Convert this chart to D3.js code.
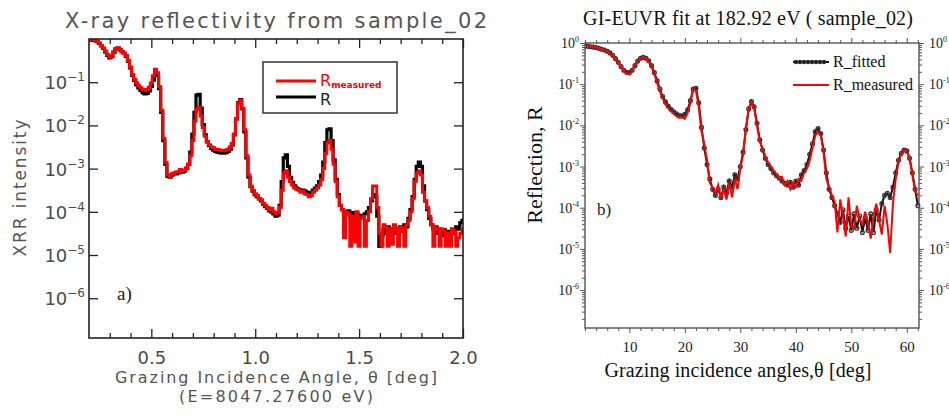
<!DOCTYPE html>
<html>
<head>
<meta charset="utf-8">
<script src="https://cdn.jsdelivr.net/npm/d3@7"></script>
<style>
  body { margin: 0; background: #fff; }
  svg { display: block; }
</style>
</head>
<body>
<script>
// ---- panel a) : XRR, values stored as log10(intensity) read off the decades ----
var xrrAngle = [
  0.20, 0.21, 0.22, 0.23, 0.24, 0.25, 0.26, 0.27, 0.28, 0.29,
  0.30, 0.31, 0.32, 0.33, 0.34, 0.35, 0.36, 0.37, 0.38, 0.39,
  0.40, 0.41, 0.42, 0.43, 0.44, 0.45, 0.46, 0.47, 0.48, 0.49,
  0.50, 0.51, 0.52, 0.53, 0.54, 0.55, 0.56, 0.57, 0.58, 0.59,
  0.60, 0.61, 0.62, 0.63, 0.64, 0.65, 0.66, 0.67, 0.68, 0.69,
  0.70, 0.71, 0.72, 0.73, 0.74, 0.75, 0.76, 0.77, 0.78, 0.79,
  0.80, 0.81, 0.82, 0.83, 0.84, 0.85, 0.86, 0.87, 0.88, 0.89,
  0.90, 0.91, 0.92, 0.93, 0.94, 0.95, 0.96, 0.97, 0.98, 0.99,
  1.00, 1.01, 1.02, 1.03, 1.04, 1.05, 1.06, 1.07, 1.08, 1.09,
  1.10, 1.11, 1.12, 1.13, 1.14, 1.15, 1.16, 1.17, 1.18, 1.19,
  1.20, 1.21, 1.22, 1.23, 1.24, 1.25, 1.26, 1.27, 1.28, 1.29,
  1.30, 1.31, 1.32, 1.33, 1.34, 1.35, 1.36, 1.37, 1.38, 1.39,
  1.40, 1.41, 1.42, 1.43, 1.44, 1.45, 1.46, 1.47, 1.48, 1.49,
  1.50, 1.51, 1.52, 1.53, 1.54, 1.55, 1.56, 1.57, 1.58, 1.59,
  1.60, 1.61, 1.62, 1.63, 1.64, 1.65, 1.66, 1.67, 1.68, 1.69,
  1.70, 1.71, 1.72, 1.73, 1.74, 1.75, 1.76, 1.77, 1.78, 1.79,
  1.80, 1.81, 1.82, 1.83, 1.84, 1.85, 1.86, 1.87, 1.88, 1.89,
  1.90, 1.91, 1.92, 1.93, 1.94, 1.95, 1.96, 1.97, 1.98, 1.99,
  2.00
];
var xrrMeasuredLog = [
  -0.02, -0.02, -0.02, -0.03, -0.05, -0.09, -0.15, -0.21, -0.28, -0.36,
  -0.42, -0.40, -0.30, -0.22, -0.20, -0.24, -0.30, -0.33, -0.38, -0.50,
  -0.65, -0.82, -0.93, -1.02, -1.08, -1.13, -1.17, -1.18, -1.17, -1.12,
  -1.02, -0.85, -0.70, -0.78, -1.10, -1.65, -2.30, -2.85, -3.15, -3.18,
  -3.12, -3.10, -3.08, -3.07, -3.02, -3.05, -3.04, -2.98, -2.90, -2.70,
  -2.35, -1.90, -1.62, -1.58, -1.78, -2.05, -2.25, -2.38, -2.45, -2.50,
  -2.52, -2.55, -2.56, -2.57, -2.58, -2.58, -2.57, -2.55, -2.50, -2.42,
  -2.20, -1.85, -1.50, -1.42, -1.60, -2.10, -2.70, -3.15, -3.40, -3.50,
  -3.58, -3.62, -3.70, -3.72, -3.80, -3.85, -3.90, -3.95, -3.92, -4.00,
  -4.05, -4.02, -3.90, -3.50, -3.10, -3.05, -3.20, -3.30, -3.38, -3.45,
  -3.48, -3.50, -3.55, -3.52, -3.58, -3.60, -3.65, -3.62, -3.55, -3.50,
  -3.45, -3.38, -3.25, -3.00, -2.65, -2.40, -2.35, -2.55, -2.90, -3.30,
  -3.65, -3.85, -3.95, -4.60, -4.00, -4.05, -4.80, -4.10, -4.70, -4.00,
  -4.80, -4.15, -4.10, -4.80, -4.20, -4.00, -3.70, -3.40, -3.40, -3.90,
  -4.50, -4.80, -4.30, -4.35, -4.80, -4.40, -4.75, -4.30, -4.40, -4.80,
  -4.35, -4.40, -4.80, -4.30, -4.20, -4.00, -3.70, -3.30, -3.10, -3.05,
  -3.15, -3.55, -3.75, -3.90, -4.10, -4.30, -4.80, -4.35, -4.40, -4.80,
  -4.40, -4.45, -4.80, -4.50, -4.80, -4.40, -4.45, -4.80, -4.60, -4.50,
  -4.40
];
var xrrCalcLog = [
  -0.02, -0.02, -0.03, -0.04, -0.06, -0.10, -0.16, -0.22, -0.30, -0.38,
  -0.44, -0.41, -0.31, -0.23, -0.21, -0.25, -0.29, -0.33, -0.40, -0.52,
  -0.67, -0.84, -0.96, -1.06, -1.13, -1.19, -1.24, -1.27, -1.26, -1.20,
  -1.10, -0.95, -0.82, -0.85, -1.15, -1.70, -2.35, -2.90, -3.18, -3.20,
  -3.15, -3.12, -3.12, -3.10, -3.08, -3.08, -3.06, -3.00, -2.90, -2.62,
  -2.20, -1.70, -1.30, -1.28, -1.60, -1.98, -2.22, -2.38, -2.47, -2.53,
  -2.57, -2.60, -2.62, -2.63, -2.64, -2.64, -2.63, -2.60, -2.55, -2.45,
  -2.22, -1.85, -1.48, -1.40, -1.62, -2.15, -2.75, -3.20, -3.42, -3.52,
  -3.60, -3.65, -3.70, -3.75, -3.82, -3.88, -3.92, -3.98, -4.00, -4.05,
  -4.10, -4.08, -3.85, -3.30, -2.75, -2.68, -2.95, -3.20, -3.32, -3.40,
  -3.45, -3.48, -3.50, -3.50, -3.52, -3.55, -3.56, -3.55, -3.50, -3.45,
  -3.40, -3.30, -3.15, -2.85, -2.40, -2.10, -2.08, -2.35, -2.80, -3.25,
  -3.60, -3.85, -3.95, -4.00, -4.05, -3.98, -4.10, -4.02, -4.12, -4.05,
  -4.15, -4.08, -4.12, -4.05, -4.00, -3.90, -3.75, -3.60, -3.65, -4.10,
  -4.80, -4.55, -4.40, -4.50, -4.35, -4.55, -4.40, -4.50, -4.38, -4.48,
  -4.35, -4.45, -4.30, -4.35, -4.15, -3.95, -3.65, -3.25, -2.95, -2.85,
  -2.95, -3.40, -3.75, -3.95, -4.15, -4.30, -4.40, -4.35, -4.50, -4.40,
  -4.55, -4.42, -4.60, -4.45, -4.55, -4.40, -4.50, -4.35, -4.40, -4.25,
  -4.20
];
var xrrMajorTicks = [0.5, 1.0, 1.5, 2.0];
var xrrMinorTicks = [0.3, 0.4, 0.6, 0.7, 0.8, 0.9, 1.1, 1.2, 1.3, 1.4, 1.6, 1.7, 1.8, 1.9];
var xrrDecades = [1e-1, 1e-2, 1e-3, 1e-4, 1e-5, 1e-6];

// ---- panel b) : GI-EUVR at 182.92 eV ----
var euvAngle = [
  2.0, 2.5, 3.0, 3.5, 4.0, 4.5, 5.0, 5.5, 6.0, 6.5,
  7.0, 7.5, 8.0, 8.5, 9.0, 9.5, 10.0, 10.5, 11.0, 11.5,
  12.0, 12.5, 13.0, 13.5, 14.0, 14.5, 15.0, 15.5, 16.0, 16.5,
  17.0, 17.5, 18.0, 18.5, 19.0, 19.5, 20.0, 20.5, 21.0, 21.5,
  22.0, 22.5, 23.0, 23.5, 24.0, 24.5, 25.0, 25.5, 26.0, 26.5,
  27.0, 27.5, 28.0, 28.5, 29.0, 29.5, 30.0, 30.5, 31.0, 31.5,
  32.0, 32.5, 33.0, 33.5, 34.0, 34.5, 35.0, 35.5, 36.0, 36.5,
  37.0, 37.5, 38.0, 38.5, 39.0, 39.5, 40.0, 40.5, 41.0, 41.5,
  42.0, 42.5, 43.0, 43.5, 44.0, 44.5, 45.0, 45.5, 46.0, 46.5,
  47.0, 47.5, 48.0, 48.5, 49.0, 49.5, 50.0, 50.5, 51.0, 51.5,
  52.0, 52.5, 53.0, 53.5, 54.0, 54.5, 55.0, 55.5, 56.0, 56.5,
  57.0, 57.5, 58.0, 58.5, 59.0, 59.5, 60.0, 60.5, 61.0, 61.5,
  62.0
];
var euvFittedLog = [
  -0.07, -0.08, -0.09, -0.10, -0.11, -0.13, -0.15, -0.17, -0.20, -0.24,
  -0.30, -0.38, -0.47, -0.57, -0.66, -0.71, -0.72, -0.66, -0.55, -0.44,
  -0.37, -0.35, -0.37, -0.43, -0.55, -0.72, -0.92, -1.12, -1.30, -1.43,
  -1.53, -1.61, -1.67, -1.72, -1.76, -1.77, -1.73, -1.62, -1.40, -1.12,
  -1.10, -1.45, -2.05, -2.55, -2.95, -3.30, -3.55, -3.70, -3.55, -3.75,
  -3.50, -3.65, -3.35, -3.50, -3.20, -3.30, -3.00, -2.65, -2.10, -1.60,
  -1.42, -1.55, -1.95, -2.35, -2.60, -2.80, -2.95, -3.05, -3.15, -3.22,
  -3.28, -3.35, -3.40, -3.45, -3.38, -3.50, -3.35, -3.45, -3.20, -3.10,
  -2.95, -2.70, -2.45, -2.15, -2.08, -2.20, -2.60, -3.15, -3.55, -3.75,
  -3.95, -4.15, -4.35, -4.05, -4.50, -4.20, -4.55, -4.15, -4.50, -4.20,
  -4.60, -4.25, -4.55, -4.15, -4.60, -4.05, -4.30, -3.90, -3.70, -3.65,
  -3.75, -3.50, -3.15, -2.85, -2.68, -2.60, -2.62, -2.80, -3.15, -3.55,
  -3.95
];
var euvMeasuredLog = [
  -0.07, -0.08, -0.09, -0.10, -0.11, -0.13, -0.15, -0.18, -0.21, -0.25,
  -0.31, -0.39, -0.48, -0.58, -0.68, -0.74, -0.76, -0.68, -0.56, -0.45,
  -0.38, -0.36, -0.38, -0.45, -0.58, -0.76, -0.97, -1.17, -1.35, -1.48,
  -1.58, -1.66, -1.72, -1.78, -1.82, -1.80, -1.84, -1.70, -1.45, -1.12,
  -1.15, -1.55, -2.15, -2.45, -2.85, -3.40, -3.50, -3.65, -3.45, -3.78,
  -3.55, -3.80, -3.40, -3.75, -3.30, -3.55, -3.05, -2.70, -2.10, -1.60,
  -1.45, -1.60, -2.00, -2.40, -2.55, -2.75, -2.90, -3.00, -3.10, -3.18,
  -3.30, -3.25, -3.45, -3.35, -3.55, -3.40, -3.50, -3.30, -3.35, -3.15,
  -3.05, -2.85, -2.55, -2.25, -2.15, -2.25, -2.65, -3.30, -3.50, -3.70,
  -3.85, -4.60, -3.80, -4.20, -4.70, -3.75, -4.45, -4.50, -3.95, -4.30,
  -4.40, -4.10, -4.35, -4.75, -4.20, -3.90, -4.30, -4.65, -3.95, -4.40,
  -5.10, -3.90, -3.30, -2.90, -2.70, -2.62, -2.62, -2.80, -3.20, -3.60,
  -3.70
];
var euvMajorTicks = [10, 20, 30, 40, 50, 60];
var euvMinorTicks = [2, 4, 6, 8, 12, 14, 16, 18, 22, 24, 26, 28, 32, 34, 36, 38, 42, 44, 46, 48, 52, 54, 56, 58, 62];
var euvDecades = [1, 1e-1, 1e-2, 1e-3, 1e-4, 1e-5, 1e-6];

var sansFont = '"DejaVu Sans", Verdana, sans-serif',
  serifFont = '"Liberation Serif", "Times New Roman", serif';

var svg = d3.select('body').append('svg')
  .attr('width', 949)
  .attr('height', 416);

function toPoints(angles, logs) {
  return angles.map(function (a, i) { return [a, Math.pow(10, logs[i])]; });
}

function expo(d) {
  return Math.round(Math.log10(d));
}

function styleAxis(g, color, width) {
  g.select('.domain').remove();
  g.selectAll('line').attr('stroke', color).attr('stroke-width', width);
}

// =================== panel a ===================
var ax = d3.scaleLinear().domain([0.2, 2.0]).range([89, 463]),
  ay = d3.scaleLog().domain([1.2e-7, 1]).range([338, 39]);

var pa = svg.append('g');

pa.append('clipPath').attr('id', 'clip-a').append('rect')
  .attr('x', 89).attr('y', 39).attr('width', 374).attr('height', 299);

var lineA = d3.line()
  .x(function (d) { return ax(d[0]); })
  .y(function (d) { return ay(d[1]); })
  .curve(d3.curveStep);

var curvesA = pa.append('g').attr('clip-path', 'url(#clip-a)');
curvesA.append('path')
  .datum(toPoints(xrrAngle, xrrCalcLog))
  .attr('d', lineA)
  .attr('fill', 'none').attr('stroke', '#000').attr('stroke-width', 3.2);
curvesA.append('path')
  .datum(toPoints(xrrAngle, xrrMeasuredLog))
  .attr('d', lineA)
  .attr('fill', 'none').attr('stroke', '#f00').attr('stroke-width', 3);

// ticks point inward on all four sides
pa.append('g').attr('transform', 'translate(0,338)')
  .call(d3.axisBottom(ax).tickValues(xrrMinorTicks).tickSize(-5).tickFormat(''))
  .call(styleAxis, '#222', 1.3);
pa.append('g').attr('transform', 'translate(0,338)')
  .call(d3.axisBottom(ax).tickValues(xrrMajorTicks).tickSize(-9).tickPadding(13).tickFormat(d3.format('.1f')))
  .call(styleAxis, '#222', 1.3)
  .selectAll('text')
  .attr('font-family', sansFont).attr('font-size', 18).attr('fill', '#4a4a4a');
pa.append('g').attr('transform', 'translate(0,39)')
  .call(d3.axisTop(ax).tickValues(xrrMinorTicks).tickSize(-5).tickFormat(''))
  .call(styleAxis, '#222', 1.3);
pa.append('g').attr('transform', 'translate(0,39)')
  .call(d3.axisTop(ax).tickValues(xrrMajorTicks).tickSize(-9).tickFormat(''))
  .call(styleAxis, '#222', 1.3);
pa.append('g').attr('transform', 'translate(89,0)')
  .call(d3.axisLeft(ay).tickValues(xrrDecades).tickSize(-9).tickFormat(''))
  .call(styleAxis, '#222', 1.3);
pa.append('g').attr('transform', 'translate(463,0)')
  .call(d3.axisRight(ay).tickValues(xrrDecades).tickSize(-9).tickFormat(''))
  .call(styleAxis, '#222', 1.3);

pa.selectAll('.ylab-a').data(xrrDecades).enter().append('text')
  .attr('class', 'ylab-a')
  .attr('x', 85)
  .attr('y', function (d) { return ay(d) + 7; })
  .attr('text-anchor', 'end')
  .attr('font-family', sansFont).attr('font-size', 18).attr('fill', '#4a4a4a')
  .each(function (d) {
    var t = d3.select(this);
    t.append('tspan').text('10');
    t.append('tspan').attr('dy', -8).attr('font-size', 12).text('\u2212' + (-expo(d)));
  });

pa.append('rect')
  .attr('x', 89).attr('y', 39).attr('width', 374).attr('height', 299)
  .attr('fill', 'none').attr('stroke', '#222').attr('stroke-width', 1.6);

pa.append('text')
  .attr('x', 65).attr('y', 28)
  .attr('font-family', sansFont).attr('font-size', 21).attr('fill', '#555')
  .attr('textLength', 422).attr('lengthAdjust', 'spacing')
  .text('X-ray reflectivity from sample_02');

pa.append('text')
  .attr('transform', 'translate(26,188) rotate(-90)')
  .attr('text-anchor', 'middle')
  .attr('font-family', sansFont).attr('font-size', 17).attr('fill', '#555')
  .attr('textLength', 137).attr('lengthAdjust', 'spacing')
  .text('XRR intensity');

pa.append('text')
  .attr('x', 276).attr('y', 383)
  .attr('text-anchor', 'middle')
  .attr('font-family', sansFont).attr('font-size', 16).attr('fill', '#555')
  .attr('textLength', 322).attr('lengthAdjust', 'spacing')
  .text('Grazing Incidence Angle, \u03b8 [deg]');
pa.append('text')
  .attr('x', 276).attr('y', 402)
  .attr('text-anchor', 'middle')
  .attr('font-family', sansFont).attr('font-size', 16).attr('fill', '#555')
  .attr('textLength', 194).attr('lengthAdjust', 'spacing')
  .text('(E=8047.27600 eV)');

pa.append('text')
  .attr('x', 117).attr('y', 300)
  .attr('font-family', serifFont).attr('font-size', 19).attr('fill', '#222')
  .text('a)');

// legend a
var legA = pa.append('g');
legA.append('rect')
  .attr('x', 263).attr('y', 62).attr('width', 134).attr('height', 51)
  .attr('fill', '#fff').attr('stroke', '#333').attr('stroke-width', 1.5);
legA.append('line').attr('x1', 276).attr('x2', 316).attr('y1', 81).attr('y2', 81)
  .attr('stroke', '#f00').attr('stroke-width', 3);
legA.append('line').attr('x1', 276).attr('x2', 316).attr('y1', 97).attr('y2', 97)
  .attr('stroke', '#000').attr('stroke-width', 3);
var legAr = legA.append('text')
  .attr('x', 320).attr('y', 86)
  .attr('font-family', sansFont).attr('font-size', 16).attr('fill', '#f00');
legAr.append('tspan').text('R');
legAr.append('tspan').attr('dy', 2).attr('font-size', 9).attr('font-weight', 'bold').text('measured');
legA.append('text')
  .attr('x', 320).attr('y', 105)
  .attr('font-family', sansFont).attr('font-size', 16).attr('fill', '#222')
  .text('R');

// =================== panel b ===================
var bx = d3.scaleLinear().domain([2, 62.2]).range([585, 919]),
  by = d3.scaleLog().domain([1.2e-7, 1]).range([328, 43]);

var pb = svg.append('g');

pb.append('clipPath').attr('id', 'clip-b').append('rect')
  .attr('x', 585).attr('y', 43).attr('width', 336).attr('height', 285);

var lineB = d3.line()
  .x(function (d) { return bx(d[0]); })
  .y(function (d) { return by(d[1]); });

var fitted = toPoints(euvAngle, euvFittedLog);
var curvesB = pb.append('g').attr('clip-path', 'url(#clip-b)');
curvesB.append('path')
  .datum(fitted)
  .attr('d', lineB)
  .attr('fill', 'none').attr('stroke', '#111').attr('stroke-width', 2);
curvesB.selectAll('circle').data(fitted).enter().append('circle')
  .attr('cx', function (d) { return bx(d[0]); })
  .attr('cy', function (d) { return by(d[1]); })
  .attr('r', 1.9)
  .attr('fill', 'none').attr('stroke', '#333').attr('stroke-width', 1.3);
curvesB.append('path')
  .datum(toPoints(euvAngle, euvMeasuredLog))
  .attr('d', lineB)
  .attr('fill', 'none').attr('stroke', '#f00').attr('stroke-width', 2);

var euvMinorY = [];
euvDecades.concat([1e-7]).forEach(function (dec) {
  [2, 3, 4, 5, 6, 7, 8, 9].forEach(function (m) {
    var v = m * dec;
    if (v < 1 && v > 1.2e-7) { euvMinorY.push(v); }
  });
});

// ticks point outward
pb.append('g').attr('transform', 'translate(0,328)')
  .call(d3.axisBottom(bx).tickValues(euvMinorTicks).tickSize(3).tickFormat(''))
  .call(styleAxis, '#555', 1);
pb.append('g').attr('transform', 'translate(0,328)')
  .call(d3.axisBottom(bx).tickValues(euvMajorTicks).tickSize(5).tickPadding(8).tickFormat(d3.format('d')))
  .call(styleAxis, '#555', 1)
  .selectAll('text')
  .attr('font-family', serifFont).attr('font-size', 15).attr('fill', '#222');
pb.append('g').attr('transform', 'translate(0,43)')
  .call(d3.axisTop(bx).tickValues(euvMinorTicks).tickSize(3).tickFormat(''))
  .call(styleAxis, '#555', 1);
pb.append('g').attr('transform', 'translate(0,43)')
  .call(d3.axisTop(bx).tickValues(euvMajorTicks).tickSize(5).tickFormat(''))
  .call(styleAxis, '#555', 1);
pb.append('g').attr('transform', 'translate(585,0)')
  .call(d3.axisLeft(by).tickValues(euvMinorY).tickSize(3).tickFormat(''))
  .call(styleAxis, '#555', 1);
pb.append('g').attr('transform', 'translate(585,0)')
  .call(d3.axisLeft(by).tickValues(euvDecades).tickSize(5).tickFormat(''))
  .call(styleAxis, '#555', 1);
pb.append('g').attr('transform', 'translate(919,0)')
  .call(d3.axisRight(by).tickValues(euvMinorY).tickSize(3).tickFormat(''))
  .call(styleAxis, '#555', 1);
pb.append('g').attr('transform', 'translate(919,0)')
  .call(d3.axisRight(by).tickValues(euvDecades).tickSize(5).tickFormat(''))
  .call(styleAxis, '#555', 1);

function decadeLabel(sel) {
  sel.each(function (d) {
    var t = d3.select(this);
    t.append('tspan').text('10');
    t.append('tspan').attr('dy', -6).attr('font-size', 8).text(expo(d) === 0 ? '0' : '-' + (-expo(d)));
  });
}
pb.selectAll('.ylab-b').data(euvDecades).enter().append('text')
  .attr('class', 'ylab-b')
  .attr('x', 579)
  .attr('y', function (d) { return by(d) + 5; })
  .attr('text-anchor', 'end')
  .attr('font-family', serifFont).attr('font-size', 14).attr('fill', '#222')
  .call(decadeLabel);
pb.selectAll('.ylab-b2').data(euvDecades).enter().append('text')
  .attr('class', 'ylab-b2')
  .attr('x', 929)
  .attr('y', function (d) { return by(d) + 5; })
  .attr('font-family', serifFont).attr('font-size', 14).attr('fill', '#222')
  .call(decadeLabel);

pb.append('rect')
  .attr('x', 585).attr('y', 43).attr('width', 334).attr('height', 285)
  .attr('fill', 'none').attr('stroke', '#555').attr('stroke-width', 1.4);

pb.append('text')
  .attr('x', 748).attr('y', 25)
  .attr('text-anchor', 'middle')
  .attr('font-family', serifFont).attr('font-size', 20).attr('fill', '#111')
  .attr('textLength', 330).attr('lengthAdjust', 'spacing')
  .text('GI-EUVR fit at 182.92 eV ( sample_02)');

pb.append('text')
  .attr('transform', 'translate(542,165) rotate(-90)')
  .attr('text-anchor', 'middle')
  .attr('font-family', serifFont).attr('font-size', 22).attr('fill', '#111')
  .text('Reflection, R');

pb.append('text')
  .attr('x', 738).attr('y', 377)
  .attr('text-anchor', 'middle')
  .attr('font-family', serifFont).attr('font-size', 20).attr('fill', '#111')
  .attr('textLength', 267).attr('lengthAdjust', 'spacing')
  .text('Grazing incidence angles,\u03b8 [deg]');

pb.append('text')
  .attr('x', 597).attr('y', 215)
  .attr('font-family', serifFont).attr('font-size', 17).attr('fill', '#222')
  .text('b)');

// legend b
var legB = pb.append('g');
legB.append('line').attr('x1', 793).attr('x2', 829).attr('y1', 62).attr('y2', 62)
  .attr('stroke', '#111').attr('stroke-width', 2);
legB.selectAll('circle').data([796, 800, 804, 808, 812, 816, 820, 824]).enter().append('circle')
  .attr('cx', function (d) { return d; }).attr('cy', 62).attr('r', 1.7)
  .attr('fill', 'none').attr('stroke', '#333').attr('stroke-width', 1.2);
legB.append('line').attr('x1', 793).attr('x2', 829).attr('y1', 85).attr('y2', 85)
  .attr('stroke', '#f00').attr('stroke-width', 2);
legB.append('text')
  .attr('x', 833).attr('y', 67)
  .attr('font-family', serifFont).attr('font-size', 16).attr('fill', '#111')
  .text('R_fitted');
legB.append('text')
  .attr('x', 833).attr('y', 90)
  .attr('font-family', serifFont).attr('font-size', 16).attr('fill', '#111')
  .text('R_measured');
</script>
</body>
</html>
